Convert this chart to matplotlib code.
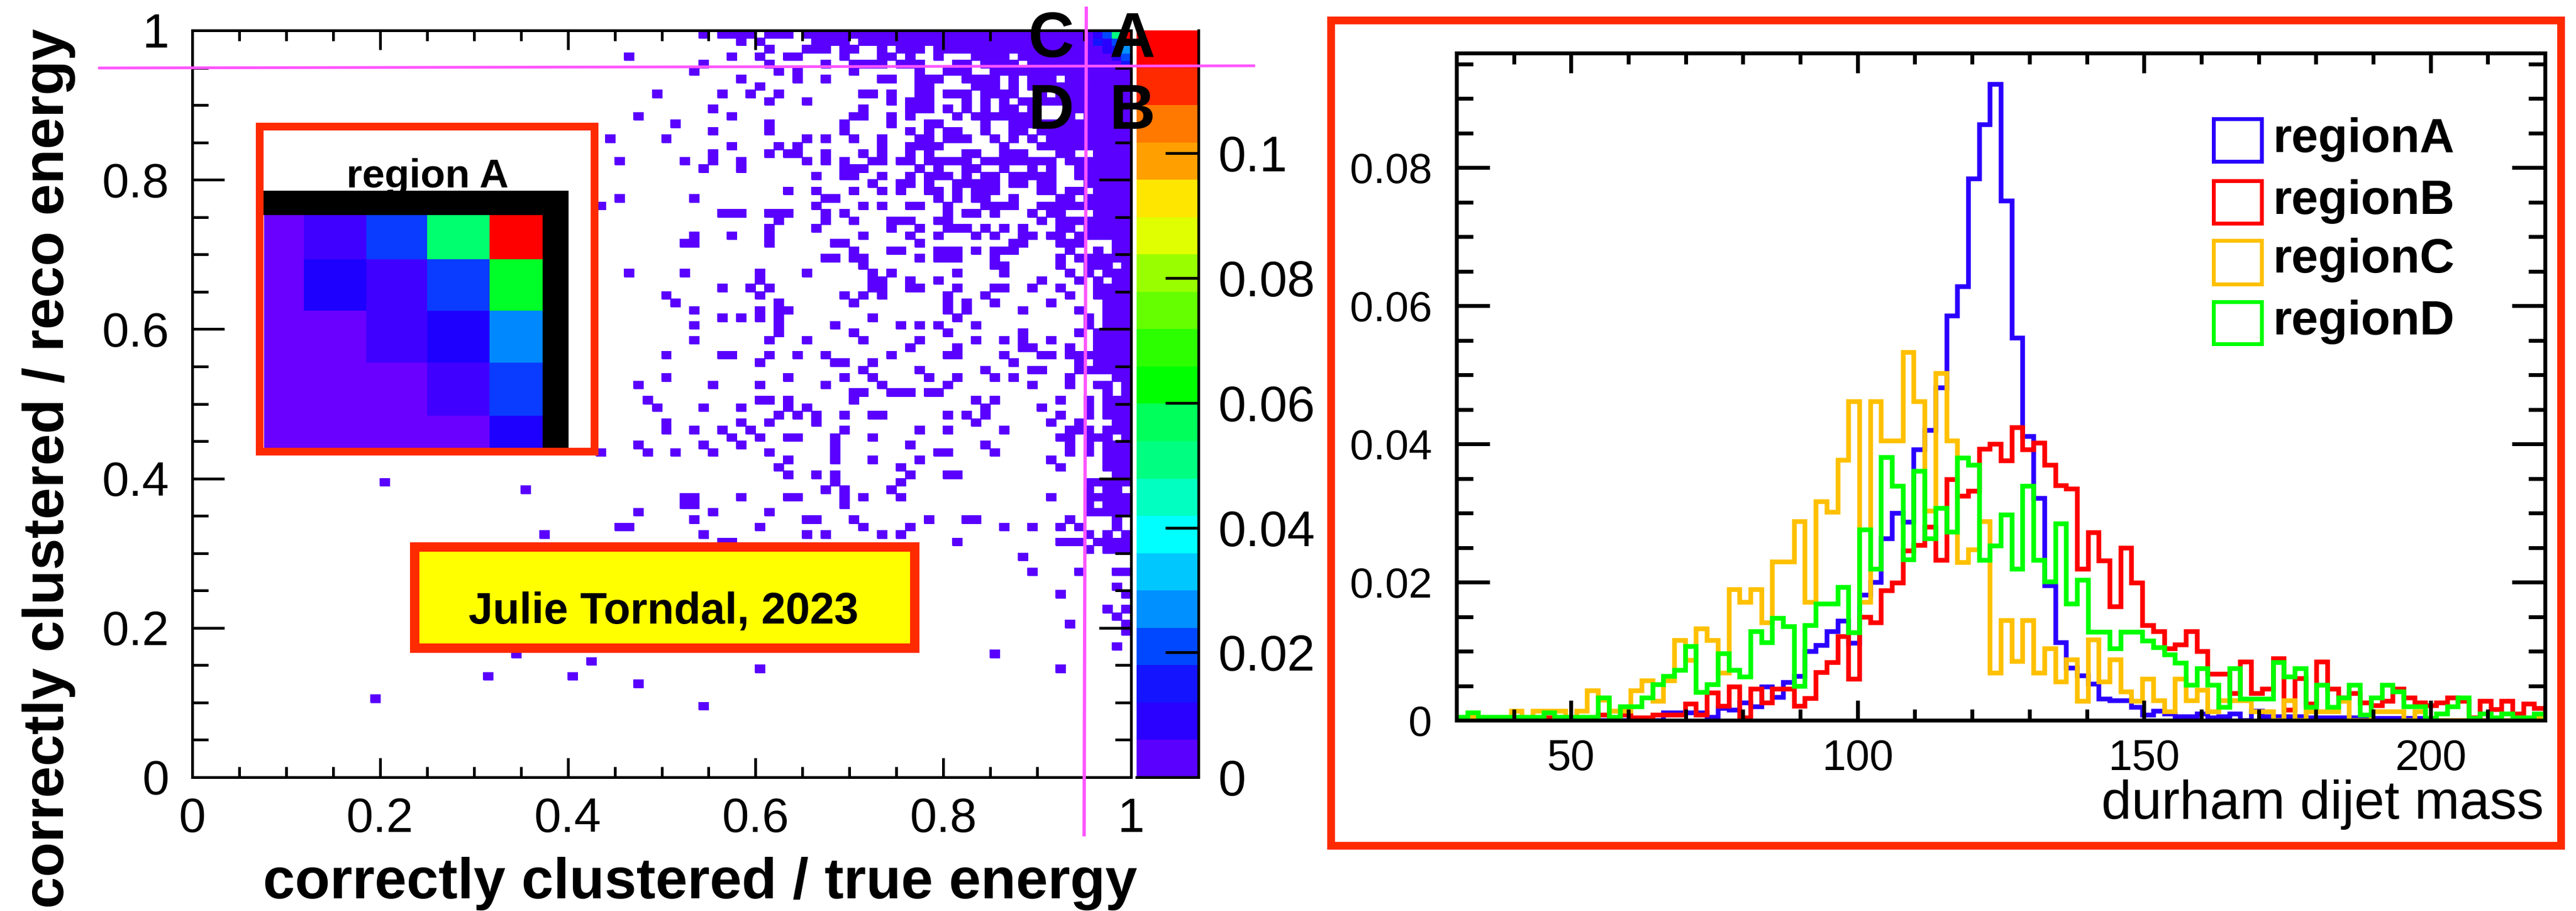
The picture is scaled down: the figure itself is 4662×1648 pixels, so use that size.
import numpy as np
import matplotlib
matplotlib.use('Agg')
import matplotlib.pyplot as plt
from matplotlib.colors import ListedColormap, BoundaryNorm
from matplotlib.patches import Rectangle
from matplotlib.ticker import MultipleLocator

plt.rcParams['font.family'] = ['Liberation Sans', 'DejaVu Sans']

W, H = 4662, 1648
PX = 0.72  # one pixel in points at dpi 100

# 2D histogram: filled columns per row, row 0 is the top one, 100x100 bins
rows_top = {
    0: "54 56-59 61-63 65-99", 1: "58 60 66-69 71-99", 2: "61 65-67 69-70 73 75-77 79-99",
    3: "46 57 60 63-64 69 73-74 76 79 83-86 88-99", 4: "54 61 67 70-73 75-77 81-82 84-87 89-99",
    5: "53 62 64 70 77 80-82 85-99", 6: "58 64 67 73-74 77-79 82-85 87 89-91 93-99",
    7: "60 77-78 83-85 87 89-99", 8: "49 56 59 62 71-72 74 77-78 80-82 84-87 90 92-99",
    9: "61 65 74 76-78 82 84 86 88-99", 10: "55 71 76-78 80 82 84 86-87 89 93-99",
    11: "47 57 70-71 74 76 81 83-89 93 95-99", 12: "51 61 69 74 78-79 84 87-99",
    13: "55 61 69 76 78 80-81 84 87-88 90-99", 14: "44 50 65 67 70 73 77-78 80-82 85 87 89 91-99",
    15: "57 62 64 73 76-79 86 90-99", 16: "55 61 63-64 67 71 73 76 78 82-83 86-88 92-93 96-99",
    17: "45 52 55 58 65 67 69 72-73 75-76 78-82 84-91 93-99",
    18: "54 58 69-71 77 79 82-83 86 89 91 94-99", 19: "66 69-70 73 76 78-80 82 84-85 87-91 94-99",
    20: "72 75-76 78 81-85 87-88 90-91 95-99", 21: "63 66 70 73 75 78-79 81 83-85 90-91 93-94 96-99",
    22: "45 53 67-68 79 81 83-84 87 92-93 95-99", 23: "43 66 71 73 76-77 80 84-87 90-99",
    24: "56-58 61-63 67 69 80 82-83 85 89 91-92 96-99", 25: "62 67 70 74-76 79-80 90 92-99",
}
rows_mid = {
    26: "61 66 74 77 80-82 84 86 88 92-93 95-99", 27: "53 57 61 71 76 79 83 85 88-89 91-92 94-99",
    28: "52-53 61 68-69 77 87-88 92-94 98-99", 29: "70 74-75 79-81 83 85-87 93 96 98-99",
    30: "67-68 70-71 77 79-81 85 92 94-99", 31: "71 85-86 92 95-97 99",
    32: "46 52 60 65 72 74 81 86 93 95 97-99", 33: "60 72-73 76 79 90 94 96 98-99",
    34: "56 59 61 72-73 76-77 81 85-86 89 92 96-99", 35: "50 60 69 71 73 80 84 93 96-99",
    36: "51 62 70 80 82 85 91 97-99", 37: "53 60 62-63 80 82 88 94 97-99",
    38: "56 58 60 62 72 81 95 97-99", 39: "53 62 68 75 77 79 83 95 97-99",
    40: "62 70 80 88 94 96-99", 41: "53 61 65 71 77 83 86 88 91 96-99",
    42: "76 81 88-89 93 96-99", 43: "50 56-57 61 64 67 74 80-81 86 90-91 93-99",
    44: "60 68-69 72 87 94 96-99", 45: "71 77 84 89-90 94-99",
    46: "50 63 69 72 78 81 85 87 93 98-99", 47: "47 55 60 67 73 80 89 93 96-97 99",
    48: "70-71 74-76 78-79 97 99", 49: "48 60-61 63 70 83 85 92 95 97-99",
    50: "49 54 58 63 65 84 90 95 97-99", 51: "62 64 66 69 72-73 80 82 84 92 95 97-99",
}
rows_low = {
    52: "50 58 61 66 83 91 94 98-99", 53: "50 53 56 59 69 77 80 86 93-95 97-99",
    54: "57 60 63-64 68 72 92-93 95-97 99", 55: "47 54 58 68 76 84 93 95 97-99",
    56: "43 48 51 55 61 68 79-80 85 93 95 97-99", 57: "63 68 72 77 91 97-99",
    58: "62 75 92 97-99", 59: "63 66 68 76 80-81 98-99", 60: "20 68 75 95-99",
    61: "35 67 69 74 95 97-98", 62: "52-53 58 63-64 69 71 75 91 95-99", 63: "52-53 69 95 97-99",
    64: "47 55 61 95-99", 65: "53 65-66 70 78 82-83 93 98", 66: "45-46 60 71 76 86 89 92 94 98",
    67: "37 54 65 67 73 75 95 97 99", 68: "56-57 81 92-94 96-99", 69: "95 97-99", 70: "88",
    72: "89 94 98-99", 74: "98", 75: "92 99", 77: "97 99", 78: "98", 79: "93 99", 80: "99",
    82: "98", 83: "34 85", 84: "42", 85: "60 92", 86: "31 40", 87: "47", 89: "19", 90: "54",
}
base_value = 0.003

# corner of the 2D histogram, also shown enlarged in the inset
region_a_values = [
    [0.003, 0.009, 0.021, 0.051, 0.117],
    [0.003, 0.015, 0.009, 0.021, 0.063],
    [0.003, 0.003, 0.009, 0.015, 0.027],
    [0.003, 0.003, 0.003, 0.009, 0.021],
    [0.003, 0.003, 0.003, 0.003, 0.015],
]

z_max = 0.1197
band_colors = ['#5a00ff', '#2a00ff', '#1414ff', '#0048ff', '#0090ff', '#00c8ff', '#00ffff',
               '#00ffc0', '#00ff80', '#00ff5a', '#00ff00', '#2cff00', '#66ff00', '#99ff00',
               '#e0ff00', '#ffe600', '#ffa000', '#ff7800', '#ff2a00', '#ff0000']
inset_colors = ['#6a00ff', '#3f00ff', '#1e00ff', '#0a3cff', '#0088ff', '#00ff6e', '#00ff28', '#ff0000']
inset_bounds = [0, 0.006, 0.012, 0.018, 0.024, 0.03, 0.057, 0.09, 0.12]
colorbar_ticks = [0, 0.02, 0.04, 0.06, 0.08, 0.1]
colorbar_labels = ['0', '0.02', '0.04', '0.06', '0.08', '0.1']
ratio_ticks = [0, 0.2, 0.4, 0.6, 0.8, 1]
ratio_labels = ['0', '0.2', '0.4', '0.6', '0.8', '1']
cut_value = 0.95

# dijet mass histograms, 100 bins from 30 to 220
region_a = [0] * 19 + [
    .0011, .0011, .0011, .0011, .0005, .0018, .0015, .0026, .002, .0049, .0034, .0055, .0064, .01,
    .0109, .0129, .0144, .0112, .0182, .02, .0263, .03, .0287, .0392, .042, .0482, .0586, .0628,
    .0784, .0863, .0921, .0752, .0554, .0411, .0322, .0195, .0113, .0076, .0065, .0053, .0031,
    .0029, .0029, .0019, .0008, .0014, .001, .0006, .0006, .001, .0004, .0006, .001, 0, .0014,
    .0006, .0006, .0006, .0006, .0004, .0004, .0004, .0004, .0004, .0004, .0003, .0003, .0003,
    .0003, .0003, 0, 0, 0, 0, 0, 0, 0, 0, 0, 0, 0]
region_b = [
    0, 0, 0, 0, 0, 0, 0, 0, .0004, 0, 0, 0, 0, .0008, 0, .0008, .0004, .0004, .0008, .0008, .0008,
    .0024, .0008, .004, .0021, .0049, .0004, .0046, .0026, .0046, .0046, .0021, .0032, .007, .0084,
    .0122, .006, .015, .0142, .0188, .0199, .0246, .0254, .028, .0232, .0349, .0325, .0332, .0393,
    .04, .0376, .0424, .0392, .0402, .037, .034, .0335, .0219, .0272, .0231, .0165, .025, .0199,
    .0138, .0129, .0104, .011, .0129, .01, .0067, .0067, .0039, .0085, .0039, .0046, .009, .0015,
    .0061, .0024, .0085, .0046, .0033, .0039, .0026, .0022, .0028, .0046, .0033, .0026, .0022,
    .0026, .0033, .0028, .0004, .0028, .0016, .0028, .001, .0024, .0018]
region_c = [
    0, .0005, 0, 0, 0, .0014, 0, .0014, .0014, .0014, 0, .0014, .0043, .003, .0014, .0014, .0043,
    .0058, .0028, .0058, .0116, .0087, .0133, .0116, .0069, .019, .0171, .019, .0142, .023, .023,
    .0288, .0171, .0317, .0302, .0377, .0462, .0171, .0462, .0405, .0405, .0533, .0462, .0303,
    .0503, .0405, .0229, .0247, .0288, .0069, .0145, .0086, .0145, .0069, .0104, .0056, .0088,
    .0028, .0117, .0056, .0088, .0042, .0028, .006, .0029, .0013, .006, .0029, .0044, .0013, .0029,
    .0029, .0029, .0013, .0013, 0, .0029, 0, .0013, .0013, .0013, .0028, 0, 0, .0013, .0013, .0013,
    0, .0013, 0, 0, 0, 0, 0, 0, 0, 0, 0, 0, .0004]
region_d = [
    .0005, .0011, .0005, .0005, .0005, .0005, .0005, .0005, .0011, .0005, .0005, .0005, .0005,
    .0033, .0005, .002, .002, .0033, .0052, .0064, .0073, .0107, .0041, .0052, .0097, .0073, .0063,
    .0129, .0113, .0148, .0136, .005, .0138, .0169, .0169, .0193, .0127, .0276, .0219, .0381, .0339,
    .0233, .0361, .0263, .0307, .0273, .038, .037, .0232, .0253, .0298, .0219, .0339, .0232, .0201,
    .0285, .0169, .0203, .0128, .0128, .0104, .0128, .0128, .0115, .0106, .0095, .0083, .0051, .0075,
    .0051, .0019, .0075, .0031, .0031, .0031, .0084, .0063, .0075, .0019, .0051, .0019, .0033, .0051,
    .0008, .0033, .0051, .0042, .002, .002, .0003, .001, .002, .0033, .0003, .001, .0004, .001,
    .0004, .0004, .001]
region_names = ['regionA', 'regionB', 'regionC', 'regionD']
region_colors = ['#2a00ff', '#ff0000', '#ffc000', '#00ff00']
mass_ticks = [50, 100, 150, 200]
mass_labels = ['50', '100', '150', '200']
frac_ticks = [0, 0.02, 0.04, 0.06, 0.08]
frac_labels = ['0', '0.02', '0.04', '0.06', '0.08']

red_frame = '#ff2a00'
magenta = '#ff55ff'


def px_axes(x0, y0, x1, y1):
    return fig.add_axes([x0 / W, 1 - y1 / H, (x1 - x0) / W, (y1 - y0) / H])


def parse_cols(text):
    cols = []
    for part in text.split():
        if '-' in part:
            a, b = part.split('-')
            cols.extend(range(int(a), int(b) + 1))
        else:
            cols.append(int(part))
    return cols


def style_axes(ax, xmajor, ymajor, lw):
    for sp in ax.spines.values():
        sp.set_linewidth(lw)
    ax.tick_params(which='both', direction='in', top=True, right=True, width=lw)
    ax.tick_params(axis='x', which='major', length=xmajor)
    ax.tick_params(axis='x', which='minor', length=xmajor * 0.55)
    ax.tick_params(axis='y', which='major', length=ymajor)
    ax.tick_params(axis='y', which='minor', length=ymajor * 0.5)


fig = plt.figure(figsize=(W / 100, H / 100), dpi=100)

# left: 2D histogram
grid = np.full((100, 100), np.nan)
for rows in (rows_top, rows_mid, rows_low):
    for row, text in rows.items():
        grid[99 - row, parse_cols(text)] = base_value
for i, line in enumerate(region_a_values):
    for j, val in enumerate(line):
        grid[99 - i, 95 + j] = val

bounds = np.linspace(0, z_max, len(band_colors) + 1)
cmap = ListedColormap(band_colors)
norm = BoundaryNorm(bounds, cmap.N)
edges = np.linspace(0, 1, 101)

ax = px_axes(348, 55, 2047, 1406)
# thin edge in the face colour, the cells in the reference bleed a little
mesh = ax.pcolormesh(edges, edges, np.ma.masked_invalid(grid), cmap=cmap, norm=norm,
                     edgecolors='face', linewidth=1.5 * PX)
ax.set_xlim(0, 1)
ax.set_ylim(0, 1)
ax.set_xticks(ratio_ticks, ratio_labels)
ax.set_yticks(ratio_ticks, ratio_labels)
ax.xaxis.set_minor_locator(MultipleLocator(0.05))
ax.yaxis.set_minor_locator(MultipleLocator(0.05))
style_axes(ax, 35 * PX, 58 * PX, 5 * PX)
ax.tick_params(axis='x', labelsize=63, pad=36 * PX)
ax.tick_params(axis='y', labelsize=63, pad=42 * PX)

cax = px_axes(2057, 55, 2169, 1406)
cbar = fig.colorbar(mesh, cax=cax, ticks=colorbar_ticks, spacing='proportional')
cbar.outline.set_visible(False)
cax.set_yticklabels(colorbar_labels)
cax.minorticks_off()
cax.tick_params(axis='y', direction='in', length=60 * PX, width=5 * PX, labelsize=65, pad=35 * PX)

# right: dijet mass
mass_edges = np.linspace(30, 220, 101)
ax2 = px_axes(2636, 96, 4606, 1303)
for vals, col in zip([region_a, region_b, region_c, region_d], region_colors):
    ax2.stairs(vals, mass_edges, color=col, lw=8.5 * PX)
ax2.set_xlim(30, 220)
ax2.set_ylim(0, 0.0966)
ax2.set_xticks(mass_ticks, mass_labels)
ax2.set_yticks(frac_ticks, frac_labels)
ax2.xaxis.set_minor_locator(MultipleLocator(10))
ax2.yaxis.set_minor_locator(MultipleLocator(0.005))
style_axes(ax2, 36 * PX, 60 * PX, 7 * PX)
ax2.tick_params(axis='x', labelsize=56, pad=33 * PX)
ax2.tick_params(axis='y', labelsize=55, pad=44 * PX)

# everything placed by hand goes on a layer in image pixels
top = fig.add_axes([0, 0, 1, 1], facecolor='none')
top.axis('off')


def frame(x0, y0, x1, y1, lw, fill='none', z=5):
    top.add_patch(Rectangle((x0, y0), x1 - x0, y1 - y0, facecolor=fill, edgecolor=red_frame,
                            lw=lw * PX, joinstyle='miter', zorder=z))


def label(x, y, text, size, bold=True, ha='center', rotation=0):
    top.text(x, y, text, fontsize=size * PX, fontweight='bold' if bold else 'normal', ha=ha,
             va='baseline', rotation=rotation, rotation_mode='anchor', zorder=9)


top.plot([2169, 2169], [55, 1406], color='black', lw=5 * PX, zorder=3)
top.plot([2057, 2169], [1406, 1406], color='black', lw=5 * PX, zorder=3)

label(1267, 1625, 'correctly clustered / true energy', 104)
label(115, 847, 'correctly clustered / reco energy', 103, rotation=90)

# inset with the region A corner
frame(470, 229, 1076, 817, 14, fill='white')
label(774, 339, 'region A', 73)
top.add_patch(Rectangle((477, 345), 552, 44, facecolor='black', edgecolor='none', zorder=6))
top.add_patch(Rectangle((982, 345), 47, 465, facecolor='black', edgecolor='none', zorder=6))
inset_cmap = ListedColormap(inset_colors)
inset_norm = BoundaryNorm(inset_bounds, inset_cmap.N)
top.pcolormesh([477.5, 549.5, 663, 773, 886, 982], [389, 469, 561.5, 656, 752, 810],
               np.array(region_a_values), cmap=inset_cmap, norm=inset_norm, zorder=6)

# credit box
frame(749.5, 988.5, 1655, 1171.5, 17, fill='#ffff00')
label(1201, 1127, 'Julie Torndal, 2023', 79)

# cut lines and region letters
for letter, x, y in [('C', 1902, 103), ('A', 2049, 103), ('D', 1902, 233), ('B', 2049, 233)]:
    label(x, y, letter, 115)
top.plot([180, 2269], [123, 119], color=magenta, lw=5 * PX, zorder=10)
top.plot([1966, 1962], [15, 1510], color=magenta, lw=6 * PX, zorder=10)

# right frame, legend and axis title
frame(2409, 37, 4635, 1530, 14)
legend_tops = [212, 324, 432, 543]
legend_bottoms = [295, 407, 517, 625]
legend_bases = [275, 387, 493, 605]
for name, col, y0, y1, base in zip(region_names, region_colors, legend_tops, legend_bottoms, legend_bases):
    top.add_patch(Rectangle((4006, y0 + 3), 87, y1 - y0 - 6, facecolor='none', edgecolor=col,
                            lw=7 * PX, zorder=8))
    label(4113, base, name, 87, ha='left')
label(4604, 1481, 'durham dijet mass', 98, bold=False, ha='right')

top.set_xlim(0, W)
top.set_ylim(H, 0)

fig.savefig('out.png', dpi=100)
